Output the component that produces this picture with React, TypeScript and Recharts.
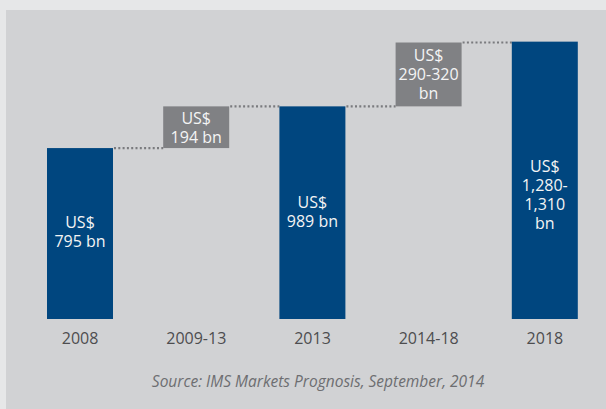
import { Bar, BarChart, Cell, LabelList, XAxis, YAxis } from "recharts";

const categories = ["2008", "2009-13", "2013", "2014-18", "2018"];
const lows = [0, 795, 0, 989, 0];
const highs = [795, 989, 989, 1286, 1290];
const kinds = ["total", "change", "total", "change", "total"];
const barLabels = [
  ["US$", "795 bn"],
  ["US$", "194 bn"],
  ["US$", "989 bn"],
  ["US$", "290-320", "bn"],
  ["US$", "1,280-", "1,310", "bn"],
];

const data = categories.map((name, i) => ({
  name,
  range: [lows[i], highs[i]],
  kind: kinds[i],
}));

const W = 606;
const H = 409;
const margin = { top: 18, right: 3, left: 22, bottom: 0 };
const step = (W - margin.left - margin.right) / categories.length;
// the tall 2018 label sits a bit below the middle of its bar
const labelNudge = [-2, 0, -1, 0, 14];

const BLUE = "#00467f";
const GRAY = "#808184";
const FONT = "'Open Sans', 'Noto Sans', sans-serif";

const StepBar = (props: any) => {
  const { x, y, width, height, index } = props;
  const fill = kinds[index] === "total" ? BLUE : GRAY;
  return (
    <g>
      <rect x={x} y={y} width={width} height={height} fill={fill} />
      {index < categories.length - 1 && (
        <line
          x1={x + width + 1}
          x2={x + step}
          y1={y}
          y2={y}
          stroke="#7a7b7e"
          strokeWidth={2.2}
          strokeDasharray="2 2.3"
        />
      )}
    </g>
  );
};

const BarText = (props: any) => {
  const { x, y, width, height, index } = props;
  const lines = barLabels[index];
  const cx = x + width / 2;
  const cy = y + height / 2 + labelNudge[index];
  const lh = 19;
  return (
    <text
      x={cx}
      textAnchor="middle"
      fill="#f4f4f4"
      fontSize={16}
      fontFamily={FONT}
      dominantBaseline="central"
    >
      {lines.map((l, i) => (
        <tspan key={i} x={cx} y={cy - ((lines.length - 1) * lh) / 2 + i * lh}>
          {l}
        </tspan>
      ))}
    </text>
  );
};

const Tick = (props: any) => {
  const { x, y, payload } = props;
  return (
    <text
      x={x}
      y={y + 11}
      textAnchor="middle"
      dominantBaseline="central"
      fill="#4d4d4f"
      fontSize={16}
      fontFamily={FONT}
    >
      {payload.value}
    </text>
  );
};

export default function App() {
  return (
    <div
      style={{
        position: "absolute",
        left: 0,
        top: 0,
        width: W,
        height: H,
        background: "#e6e7e8",
        overflow: "hidden",
      }}
    >
      <div
        style={{
          position: "absolute",
          left: 6,
          top: 10,
          width: W - 6,
          height: H - 10,
          background: "#d1d2d4",
        }}
      />
      <div style={{ position: "absolute", left: 0, top: 0 }}>
        <BarChart width={W} height={H} data={data} margin={margin}>
          <XAxis
            dataKey="name"
            axisLine={false}
            tickLine={false}
            height={90}
            tick={<Tick />}
            interval={0}
          />
          <YAxis hide domain={[0, 1400]} />
          <Bar
            dataKey="range"
            barSize={66}
            shape={<StepBar />}
            isAnimationActive={false}
          >
            {data.map((d, i) => (
              <Cell key={i} fill={d.kind === "total" ? BLUE : GRAY} />
            ))}
            <LabelList dataKey="range" content={<BarText />} />
          </Bar>
        </BarChart>
      </div>
      <div
        style={{
          position: "absolute",
          left: 0,
          width: 636,
          top: 371,
          textAlign: "center",
          fontFamily: FONT,
          fontStyle: "italic",
          fontSize: 15.5,
          color: "#6d6e71",
          lineHeight: "20px",
        }}
      >
        Source: IMS Markets Prognosis, September, 2014
      </div>
    </div>
  );
}
